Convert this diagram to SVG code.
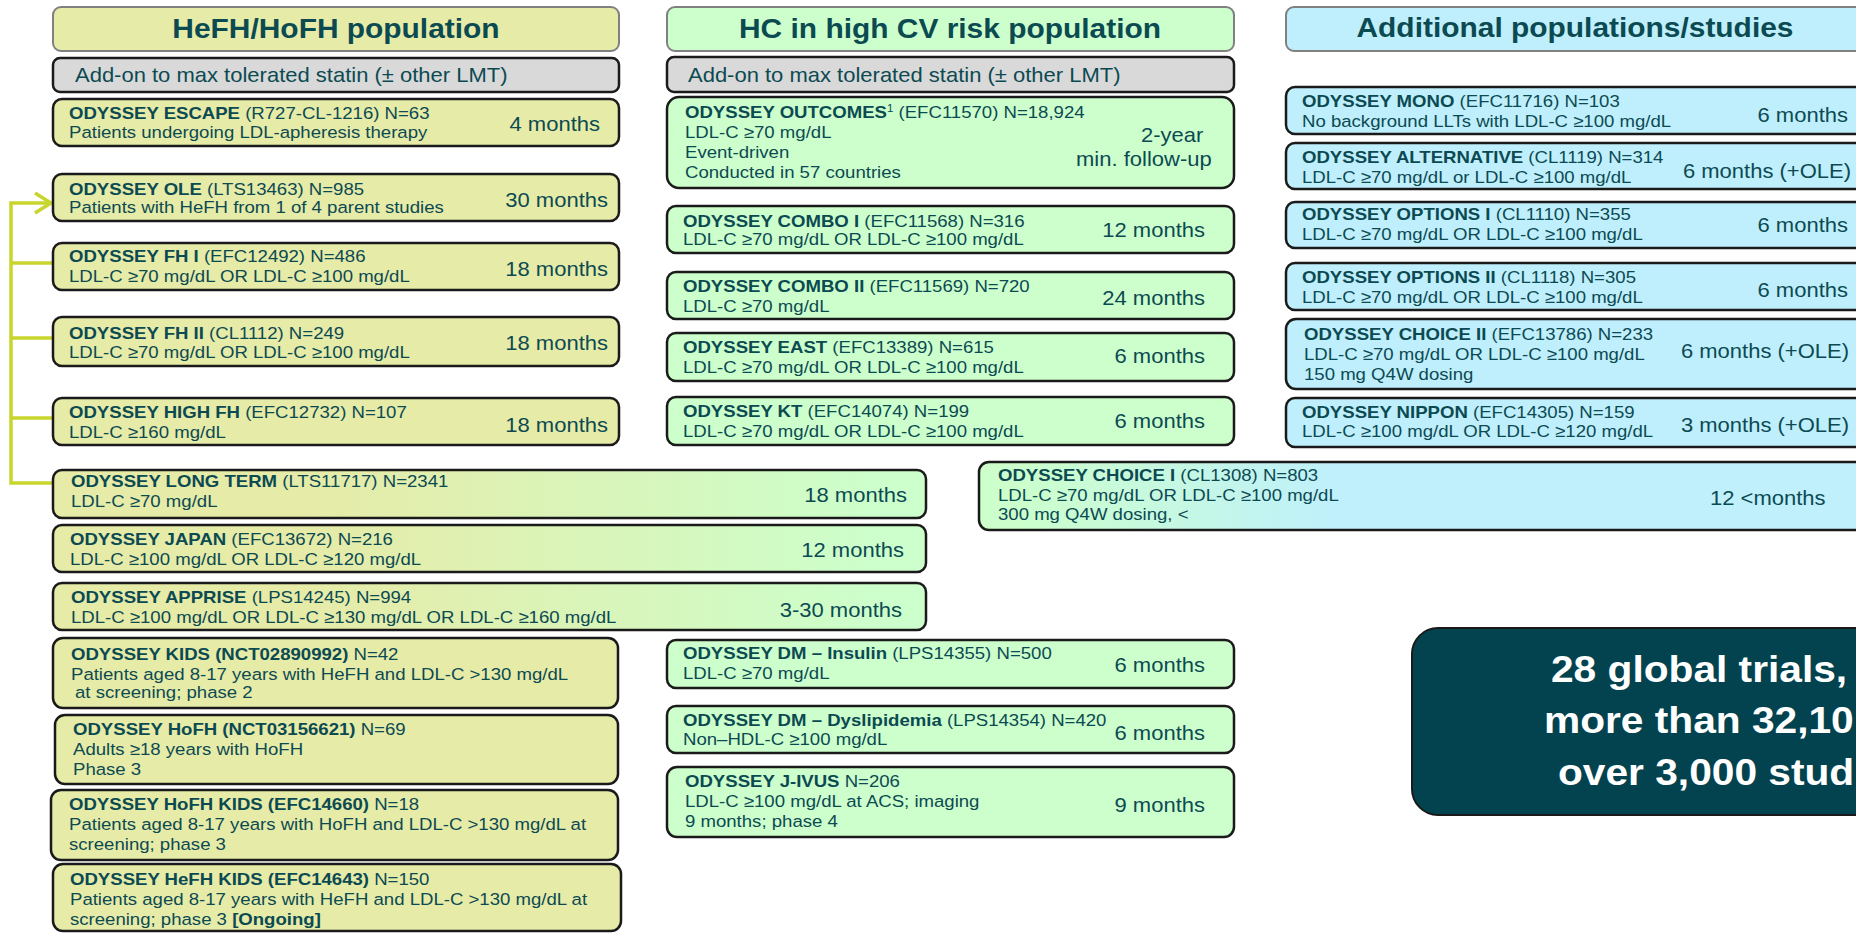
<svg xmlns="http://www.w3.org/2000/svg" width="1856" height="933" viewBox="0 0 1856 933">
<defs>
<style>
.box{stroke:#1a1a1a;stroke-width:2.5}
.hdr{stroke:#808080;stroke-width:2}
.fy{fill:#e6eba8}
.fg{fill:#ccffcc}
.fc{fill:#bfeffc}
.fgr{fill:#d9d9d9}
.t{font-family:"Liberation Sans",Arial,sans-serif;fill:#0c4a52;font-size:16.9px}
.b{font-weight:bold}
.dur{font-size:20px}
.add{font-size:20px}
.ttl{font-size:27.2px;font-weight:bold}
.sup{font-size:10.5px}
.big{font-size:37px;font-weight:bold;fill:#ffffff}
.L{transform-box:fill-box;transform-origin:0 0;transform:scaleX(1.1)}
.R{transform-box:fill-box;transform-origin:100% 0;transform:scaleX(1.1);text-anchor:end}
.C{transform-box:fill-box;transform-origin:50% 0;transform:scaleX(1.1);text-anchor:middle}
.conn{fill:none;stroke:#c8d52d;stroke-width:3.5}
</style>
<linearGradient id="gYG" x1="0" y1="0" x2="1" y2="0">
<stop offset="0.3" stop-color="#e6eba8"/>
<stop offset="0.95" stop-color="#ccffcc"/>
</linearGradient>
<linearGradient id="gGC" x1="0" y1="0" x2="1" y2="0">
<stop offset="0.05" stop-color="#ccffcc"/>
<stop offset="0.4" stop-color="#bff0fc"/>
</linearGradient>
<marker id="arrow" markerUnits="userSpaceOnUse" viewBox="0 0 22 24" markerWidth="22" markerHeight="24" refX="18" refY="11" orient="auto">
<path d="M2,1 L18,11 L2,21" fill="none" stroke="#c8d52d" stroke-width="3.5"/>
</marker>
</defs>

<g id="connectors">
<path class="conn" d="M53,483 H11 V203 H51" marker-end="url(#arrow)"/>
<path class="conn" d="M53,263 H11"/>
<path class="conn" d="M53,338 H11"/>
<path class="conn" d="M53,418 H11"/>
</g>

<!-- Column 1 -->
<g id="hdr-hefh">
<rect class="hdr fy" x="53" y="7" width="566" height="44" rx="8"/>
<text class="t ttl C" x="336" y="38">HeFH/HoFH population</text>
</g>
<g id="addon-hefh">
<rect class="box fgr" x="53" y="58" width="566" height="34" rx="7"/>
<text class="t add L" x="75" y="82">Add-on to max tolerated statin (± other LMT)</text>
</g>
<g id="escape">
<rect class="box fy" x="53" y="99" width="566" height="47" rx="9"/>
<text class="t L" x="69" y="119"><tspan class="b">ODYSSEY ESCAPE</tspan> (R727-CL-1216) N=63</text>
<text class="t L" x="69" y="138">Patients undergoing LDL-apheresis therapy</text>
<text class="t dur R" x="600" y="131">4 months</text>
</g>
<g id="ole">
<rect class="box fy" x="53" y="174" width="566" height="47" rx="9"/>
<text class="t L" x="69" y="195"><tspan class="b">ODYSSEY OLE</tspan> (LTS13463) N=985</text>
<text class="t L" x="69" y="213">Patients with HeFH from 1 of 4 parent studies</text>
<text class="t dur R" x="608" y="207">30 months</text>
</g>
<g id="fh1">
<rect class="box fy" x="53" y="243" width="566" height="47" rx="9"/>
<text class="t L" x="69" y="262"><tspan class="b">ODYSSEY FH I</tspan> (EFC12492) N=486</text>
<text class="t L" x="69" y="282">LDL-C ≥70 mg/dL OR LDL-C ≥100 mg/dL</text>
<text class="t dur R" x="608" y="276">18 months</text>
</g>
<g id="fh2">
<rect class="box fy" x="53" y="317" width="566" height="49" rx="9"/>
<text class="t L" x="69" y="339"><tspan class="b">ODYSSEY FH II</tspan> (CL1112) N=249</text>
<text class="t L" x="69" y="358">LDL-C ≥70 mg/dL OR LDL-C ≥100 mg/dL</text>
<text class="t dur R" x="608" y="350">18 months</text>
</g>
<g id="highfh">
<rect class="box fy" x="53" y="398" width="566" height="47" rx="9"/>
<text class="t L" x="69" y="418"><tspan class="b">ODYSSEY HIGH FH</tspan> (EFC12732) N=107</text>
<text class="t L" x="69" y="438">LDL-C ≥160 mg/dL</text>
<text class="t dur R" x="608" y="432">18 months</text>
</g>
<g id="longterm">
<rect class="box" fill="url(#gYG)" x="53" y="470" width="873" height="48" rx="9"/>
<text class="t L" x="71" y="487"><tspan class="b">ODYSSEY LONG TERM</tspan> (LTS11717) N=2341</text>
<text class="t L" x="71" y="507">LDL-C ≥70 mg/dL</text>
<text class="t dur R" x="907" y="502">18 months</text>
</g>
<g id="japan">
<rect class="box" fill="url(#gYG)" x="53" y="525" width="873" height="47" rx="9"/>
<text class="t L" x="70" y="545"><tspan class="b">ODYSSEY JAPAN</tspan> (EFC13672) N=216</text>
<text class="t L" x="70" y="565">LDL-C ≥100 mg/dL OR LDL-C ≥120 mg/dL</text>
<text class="t dur R" x="904" y="557">12 months</text>
</g>
<g id="apprise">
<rect class="box" fill="url(#gYG)" x="53" y="583" width="873" height="47" rx="9"/>
<text class="t L" x="71" y="603"><tspan class="b">ODYSSEY APPRISE</tspan> (LPS14245) N=994</text>
<text class="t L" x="71" y="623">LDL-C ≥100 mg/dL OR LDL-C ≥130 mg/dL OR LDL-C ≥160 mg/dL</text>
<text class="t dur R" x="902" y="617">3-30 months</text>
</g>
<g id="kids">
<rect class="box fy" x="53" y="638" width="565" height="70" rx="10"/>
<text class="t L" x="71" y="660"><tspan class="b">ODYSSEY KIDS (NCT02890992)</tspan> N=42</text>
<text class="t L" x="71" y="680">Patients aged 8-17 years with HeFH and LDL-C &gt;130 mg/dL</text>
<text class="t L" x="75" y="698">at screening; phase 2</text>
</g>
<g id="hofh">
<rect class="box fy" x="55" y="715" width="563" height="69" rx="10"/>
<text class="t L" x="73" y="735"><tspan class="b">ODYSSEY HoFH (NCT03156621)</tspan> N=69</text>
<text class="t L" x="73" y="755">Adults ≥18 years with HoFH</text>
<text class="t L" x="73" y="775">Phase 3</text>
</g>
<g id="hofhkids">
<rect class="box fy" x="51" y="790" width="567" height="70" rx="10"/>
<text class="t L" x="69" y="810"><tspan class="b">ODYSSEY HoFH KIDS (EFC14660)</tspan> N=18</text>
<text class="t L" x="69" y="830">Patients aged 8-17 years with HoFH and LDL-C &gt;130 mg/dL at</text>
<text class="t L" x="69" y="850">screening; phase 3</text>
</g>
<g id="hefhkids">
<rect class="box fy" x="53" y="864" width="568" height="67" rx="10"/>
<text class="t L" x="70" y="885"><tspan class="b">ODYSSEY HeFH KIDS (EFC14643)</tspan> N=150</text>
<text class="t L" x="70" y="905">Patients aged 8-17 years with HeFH and LDL-C &gt;130 mg/dL at</text>
<text class="t L" x="70" y="925">screening; phase 3 <tspan class="b">[Ongoing]</tspan></text>
</g>

<!-- Column 2 -->
<g id="hdr-hc">
<rect class="hdr fg" x="667" y="7" width="567" height="44" rx="8"/>
<text class="t ttl C" x="950" y="38">HC in high CV risk population</text>
</g>
<g id="addon-hc">
<rect class="box fgr" x="667" y="57" width="567" height="35" rx="7"/>
<text class="t add L" x="688" y="82">Add-on to max tolerated statin (± other LMT)</text>
</g>
<g id="outcomes">
<rect class="box fg" x="667" y="97" width="567" height="91" rx="12"/>
<text class="t L" x="685" y="118"><tspan class="b">ODYSSEY OUTCOMES</tspan><tspan class="sup" dy="-6">1</tspan><tspan dy="6"> (EFC11570) N=18,924</tspan></text>
<text class="t L" x="685" y="138">LDL-C ≥70 mg/dL</text>
<text class="t L" x="685" y="158">Event-driven</text>
<text class="t L" x="685" y="178">Conducted in 57 countries</text>
<text class="t dur L" x="1141" y="142">2-year</text>
<text class="t dur L" x="1076" y="166">min. follow-up</text>
</g>
<g id="combo1">
<rect class="box fg" x="667" y="206" width="567" height="47" rx="9"/>
<text class="t L" x="683" y="227"><tspan class="b">ODYSSEY COMBO I</tspan> (EFC11568) N=316</text>
<text class="t L" x="683" y="245">LDL-C ≥70 mg/dL OR LDL-C ≥100 mg/dL</text>
<text class="t dur R" x="1205" y="237">12 months</text>
</g>
<g id="combo2">
<rect class="box fg" x="667" y="272" width="567" height="47" rx="9"/>
<text class="t L" x="683" y="292"><tspan class="b">ODYSSEY COMBO II</tspan> (EFC11569) N=720</text>
<text class="t L" x="683" y="312">LDL-C ≥70 mg/dL</text>
<text class="t dur R" x="1205" y="305">24 months</text>
</g>
<g id="east">
<rect class="box fg" x="667" y="333" width="567" height="48" rx="9"/>
<text class="t L" x="683" y="353"><tspan class="b">ODYSSEY EAST</tspan> (EFC13389) N=615</text>
<text class="t L" x="683" y="373">LDL-C ≥70 mg/dL OR LDL-C ≥100 mg/dL</text>
<text class="t dur R" x="1205" y="363">6 months</text>
</g>
<g id="kt">
<rect class="box fg" x="667" y="397" width="567" height="48" rx="9"/>
<text class="t L" x="683" y="417"><tspan class="b">ODYSSEY KT</tspan> (EFC14074) N=199</text>
<text class="t L" x="683" y="437">LDL-C ≥70 mg/dL OR LDL-C ≥100 mg/dL</text>
<text class="t dur R" x="1205" y="428">6 months</text>
</g>
<g id="dm-insulin">
<rect class="box fg" x="667" y="640" width="567" height="48" rx="9"/>
<text class="t L" x="683" y="659"><tspan class="b">ODYSSEY DM – Insulin</tspan> (LPS14355) N=500</text>
<text class="t L" x="683" y="679">LDL-C ≥70 mg/dL</text>
<text class="t dur R" x="1205" y="672">6 months</text>
</g>
<g id="dm-dyslipidemia">
<rect class="box fg" x="667" y="706" width="567" height="47" rx="9"/>
<text class="t L" x="683" y="726"><tspan class="b">ODYSSEY DM – Dyslipidemia</tspan> (LPS14354) N=420</text>
<text class="t L" x="683" y="745">Non–HDL-C ≥100 mg/dL</text>
<text class="t dur R" x="1205" y="740">6 months</text>
</g>
<g id="j-ivus">
<rect class="box fg" x="667" y="767" width="567" height="70" rx="10"/>
<text class="t L" x="685" y="787"><tspan class="b">ODYSSEY J-IVUS</tspan> N=206</text>
<text class="t L" x="685" y="807">LDL-C ≥100 mg/dL at ACS; imaging</text>
<text class="t L" x="685" y="827">9 months; phase 4</text>
<text class="t dur R" x="1205" y="812">9 months</text>
</g>

<!-- Column 3 -->
<g id="hdr-additional">
<rect class="hdr fc" x="1286" y="7" width="600" height="44" rx="8"/>
<text class="t ttl C" x="1575" y="37">Additional populations/studies</text>
</g>
<g id="mono">
<rect class="box fc" x="1286" y="87" width="600" height="47" rx="9"/>
<text class="t L" x="1302" y="107"><tspan class="b">ODYSSEY MONO</tspan> (EFC11716) N=103</text>
<text class="t L" x="1302" y="127">No background LLTs with LDL-C ≥100 mg/dL</text>
<text class="t dur R" x="1848" y="122">6 months</text>
</g>
<g id="alternative">
<rect class="box fc" x="1286" y="143" width="600" height="46" rx="9"/>
<text class="t L" x="1302" y="163"><tspan class="b">ODYSSEY ALTERNATIVE</tspan> (CL1119) N=314</text>
<text class="t L" x="1302" y="183">LDL-C ≥70 mg/dL or LDL-C ≥100 mg/dL</text>
<text class="t dur R" x="1851" y="178">6 months (+OLE)</text>
</g>
<g id="options1">
<rect class="box fc" x="1286" y="202" width="600" height="46" rx="9"/>
<text class="t L" x="1302" y="220"><tspan class="b">ODYSSEY OPTIONS I</tspan> (CL1110) N=355</text>
<text class="t L" x="1302" y="240">LDL-C ≥70 mg/dL OR LDL-C ≥100 mg/dL</text>
<text class="t dur R" x="1848" y="232">6 months</text>
</g>
<g id="options2">
<rect class="box fc" x="1286" y="263" width="600" height="47" rx="9"/>
<text class="t L" x="1302" y="283"><tspan class="b">ODYSSEY OPTIONS II</tspan> (CL1118) N=305</text>
<text class="t L" x="1302" y="303">LDL-C ≥70 mg/dL OR LDL-C ≥100 mg/dL</text>
<text class="t dur R" x="1848" y="297">6 months</text>
</g>
<g id="choice2">
<rect class="box fc" x="1286" y="319" width="600" height="70" rx="10"/>
<text class="t L" x="1304" y="340"><tspan class="b">ODYSSEY CHOICE II</tspan> (EFC13786) N=233</text>
<text class="t L" x="1304" y="360">LDL-C ≥70 mg/dL OR LDL-C ≥100 mg/dL</text>
<text class="t L" x="1304" y="380">150 mg Q4W dosing</text>
<text class="t dur R" x="1849" y="358">6 months (+OLE)</text>
</g>
<g id="nippon">
<rect class="box fc" x="1286" y="398" width="600" height="49" rx="9"/>
<text class="t L" x="1302" y="418"><tspan class="b">ODYSSEY NIPPON</tspan> (EFC14305) N=159</text>
<text class="t L" x="1302" y="437">LDL-C ≥100 mg/dL OR LDL-C ≥120 mg/dL</text>
<text class="t dur R" x="1849" y="432">3 months (+OLE)</text>
</g>
<g id="choice1">
<rect class="box" fill="url(#gGC)" x="979" y="462" width="900" height="68" rx="10"/>
<text class="t L" x="998" y="481"><tspan class="b">ODYSSEY CHOICE I</tspan> (CL1308) N=803</text>
<text class="t L" x="998" y="501">LDL-C ≥70 mg/dL OR LDL-C ≥100 mg/dL</text>
<text class="t L" x="998" y="520">300 mg Q4W dosing, &lt;</text>
<text class="t dur L" x="1710" y="505">12 &lt;months</text>
</g>
<g id="summary">
<rect x="1412" y="628" width="520" height="187" rx="26" fill="#03434f" stroke="#1a1a1a" stroke-width="2"/>
<text class="t big L" x="1551" y="682">28 global trials,</text>
<text class="t big L" x="1544" y="733">more than 32,10</text>
<text class="t big L" x="1558" y="785">over 3,000 stud</text>
</g>
</svg>
